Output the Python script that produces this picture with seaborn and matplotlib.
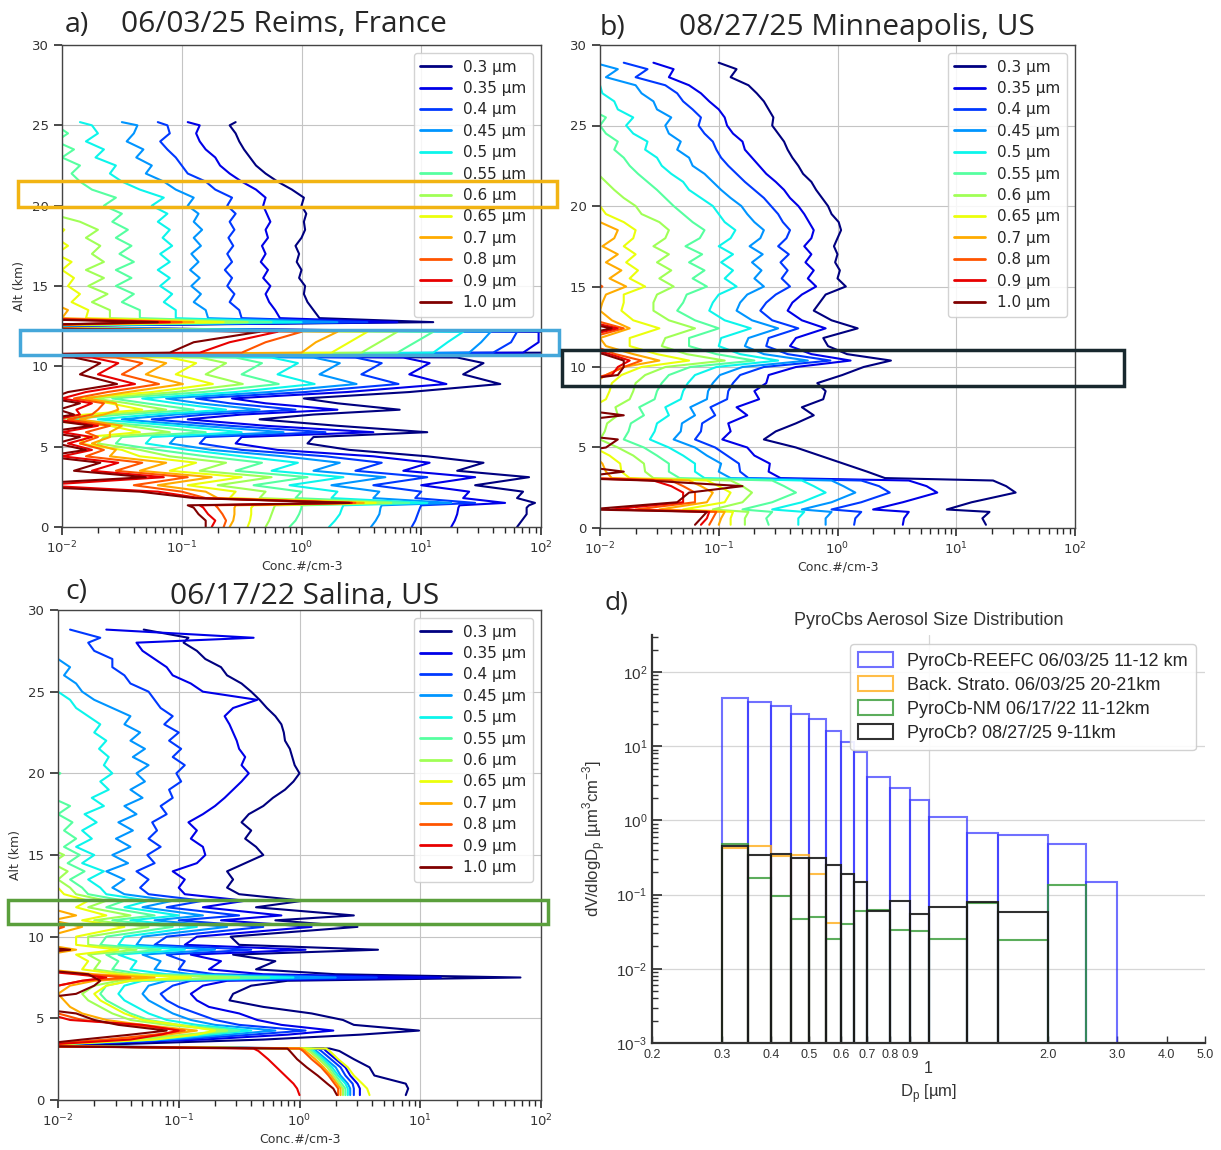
import numpy as np
import pandas as pd
import matplotlib
matplotlib.use("Agg")
import matplotlib.pyplot as plt
import seaborn as sns
from matplotlib.patches import Rectangle, Patch
from matplotlib.lines import Line2D
from matplotlib.ticker import FixedLocator, FixedFormatter

sns.set_theme(style="ticks")
plt.rcParams['font.family'] = ['DejaVu Sans']

SIZES = ["0.3 µm", "0.35 µm", "0.4 µm", "0.45 µm", "0.5 µm", "0.55 µm",
         "0.6 µm", "0.65 µm", "0.7 µm", "0.8 µm", "0.9 µm", "1.0 µm"]

# ---------------- Panel a : 06/03/25 Reims (log10 of concentration) ----------------
A_ALT = [0.0, 0.4, 0.8, 1.2, 1.35, 1.5, 1.8, 2.2, 2.6, 3.1,
         3.5, 4.0, 4.4, 4.8, 5.2, 5.6, 5.9, 6.3, 6.7, 7.0,
         7.3, 7.7, 8.0, 8.4, 8.9, 9.5, 10.2, 10.55, 10.7, 10.85,
         11.5, 12.15, 12.45, 12.75, 13.0, 13.5, 14.0, 14.5, 15.0, 15.5,
         16.0, 16.5, 17.0, 17.5, 18.0, 18.5, 19.0, 19.5, 20.0, 20.5,
         21.0, 21.5, 22.0, 22.5, 23.0, 23.5, 24.0, 24.5, 25.0, 25.2]
a_030 = [1.80, 1.84, 1.88, 1.88, 1.90, 1.95, 1.80, 1.85, 1.45, 1.90,
         1.30, 1.52, 1.05, 0.40, 0.05, 0.10, 1.05, 0.30, -0.35, 0.10,
         0.82, 0.30, 0.02, 0.90, 1.66, 1.35, 1.52, 1.30, -3.0, 2.00,
         2.15, 2.10, -3.0, 1.10, 0.15, 0.10, 0.05, 0.02, 0.03, -0.02,
         0.00, -0.04, -0.02, -0.05, 0.00, 0.03, 0.02, 0.04, 0.00, 0.02,
         -0.08, -0.20, -0.30, -0.38, -0.43, -0.48, -0.52, -0.55, -0.60, -0.55]
a_035 = [1.25, 1.28, 1.30, 1.31, 1.32, 1.70,
         1.35, 1.40, 1.00, 1.45, 0.85, 1.07, 0.60, -0.20, -0.55, -0.50, 0.60, -0.30, -0.95, -0.50, 0.30,
         -0.30, -0.58, 0.38, 1.21, 0.90, 1.07, 0.85,
         -3.0, 1.85, 1.98, 1.98, -3.0, 0.80, -0.18,
         -0.22, -0.27, -0.30, -0.26, -0.32, -0.28, -0.34, -0.30, -0.33, -0.28, -0.30, -0.26, -0.29,
         -0.32, -0.30, -0.38, -0.50, -0.60, -0.68, -0.72, -0.80, -0.85, -0.88, -0.85, -0.95]
a_040 = [0.92, 0.95, 0.97, 0.99, 1.00, 1.45,
         0.95, 1.00, 0.60, 1.05, 0.45, 0.67, 0.20, -0.50, -0.85, -0.80, 0.20, -0.60, -1.25, -0.80, -0.05,
         -0.60, -0.88, 0.03, 0.81, 0.50, 0.67, 0.45,
         -3.0, 1.60, 1.75, 1.80, -3.0, 0.55, -0.50,
         -0.52, -0.60, -0.56, -0.62, -0.58, -0.64, -0.58, -0.62, -0.57, -0.61, -0.56, -0.60, -0.55,
         -0.62, -0.58, -0.72, -0.80, -0.95, -1.00, -1.05, -1.12, -1.18, -1.10, -1.12, -1.20]
a_045 = [0.58, 0.62, 0.65, 0.66, 0.67, 1.25,
         0.60, 0.65, 0.25, 0.70, 0.10, 0.32, -0.15, -0.75, -1.10, -1.05, -0.15, -0.85, -1.50, -1.05, -0.35,
         -0.85, -1.13, -0.27, 0.46, 0.15, 0.32, 0.10,
         -3.0, 1.40, 1.50, 1.58, -3.0, 0.30, -0.78,
         -0.80, -0.90, -0.84, -0.92, -0.85, -0.93, -0.86, -0.92, -0.84, -0.90, -0.83, -0.90, -0.86,
         -0.95, -0.90, -1.05, -1.15, -1.30, -1.25, -1.38, -1.32, -1.46, -1.40, -1.37, -1.50]
a_050 = [0.23, 0.28, 0.32, 0.34, 0.35, 1.05,
         0.25, 0.30, -0.10, 0.35, -0.25, -0.03, -0.50, -0.95, -1.30, -1.25, -0.50, -1.05, -1.70, -1.25, -0.63,
         -1.05, -1.33, -0.55, 0.11, -0.20, -0.03, -0.25,
         -3.0, 1.10, 1.22, 1.35, -3.0, 0.00, -1.05,
         -1.05, -1.15, -1.08, -1.18, -1.10, -1.20, -1.10, -1.18, -1.08, -1.16, -1.10, -1.20, -1.12,
         -1.25, -1.15, -1.35, -1.50, -1.60, -1.55, -1.72, -1.65, -1.80, -1.70, -1.75, -1.85]
a_055 = [-0.10, -0.05, -0.02, 0.00, 0.00, 0.90,
         -0.05, 0.00, -0.40, 0.05, -0.55, -0.33, -0.80, -1.20, -1.55, -1.50, -0.80, -1.30, -1.95, -1.50, -0.90,
         -1.30, -1.58, -0.82, -0.19, -0.50, -0.33, -0.55,
         -3.0, 0.80, 0.95, 1.10, -3.0, -0.25, -1.35,
         -1.35, -1.50, -1.40, -1.55, -1.42, -1.55, -1.40, -1.52, -1.42, -1.55, -1.45, -1.58, -1.50,
         -1.65, -1.55, -1.75, -1.85, -1.92, -1.85, -2.00, -1.90, -2.05, -1.95, -2.05, -2.10]
a_060 = [-0.30, -0.27, -0.25, -0.23, -0.22, 0.75,
         -0.35, -0.30, -0.70, -0.25, -0.85, -0.63, -1.10, -1.35, -1.70, -1.65, -1.10, -1.45, -2.10, -1.65, -1.13,
         -1.45, -1.73, -1.05, -0.49, -0.80, -0.63, -0.85,
         -3.0, 0.50, 0.65, 0.80, -3.0, -0.45, -1.60,
         -1.60, -1.75, -1.62, -1.78, -1.65, -1.80, -1.65, -1.75, -1.68, -1.80, -1.70, -1.85, -2.10,
         -2.20, -2.10, -2.20, -2.30, -2.30, -2.30, -2.30, -2.30, -2.30, -2.30, -2.30, -2.30]
a_065 = [-0.45, -0.43, -0.42, -0.42, -0.40, 0.62,
         -0.60, -0.55, -0.95, -0.50, -1.10, -0.88, -1.35, -1.50, -1.85, -1.80, -1.35, -1.60, -2.25, -1.80, -1.33,
         -1.60, -1.88, -1.25, -0.74, -1.05, -0.88, -1.10,
         -3.0, 0.25, 0.40, 0.55, -3.0, -0.65, -1.80,
         -1.78, -1.92, -1.85, -1.95, -1.90, -2.00, -1.92, -2.05, -1.95, -2.05, -1.98, -2.10, -2.30,
         -2.30, -2.30, -2.30, -2.30, -2.30, -2.30, -2.30, -2.30, -2.30, -2.30, -2.30, -2.30]
a_070 = [-0.60, -0.57, -0.56, -0.56, -0.55, 0.52,
         -0.70, -0.80, -1.20, -0.75, -1.35, -1.13, -1.60, -1.55, -1.75, -1.60, -1.60, -1.50, -1.85, -1.65, -1.53,
         -1.55, -1.80, -1.45, -0.99, -1.30, -1.13, -1.35,
         -3.0, 0.00, 0.12, 0.30, -3.0, -0.90, -2.00,
         -1.95, -2.10, -2.00, -2.15, -2.30, -2.30, -2.30, -2.30, -2.30, -2.30, -2.30, -2.30, -2.30,
         -2.30, -2.30, -2.30, -2.30, -2.30, -2.30, -2.30, -2.30, -2.30, -2.30, -2.30, -2.30]
a_080 = [-0.65, -0.63, -0.66, -0.70, -0.72, 0.45,
         -0.80, -1.00, -1.40, -0.95, -1.55, -1.33, -1.80, -1.65, -1.85, -1.70, -1.80, -1.60, -1.95, -1.75, -1.70,
         -1.65, -1.90, -1.62, -1.19, -1.50, -1.33, -1.55,
         -3.0, -0.50, -0.30, 0.00, -3.0, -1.00, -2.20,
         -2.10, -2.40, -2.40, -2.40, -2.40, -2.40, -2.40, -2.40, -2.40, -2.40, -2.40, -2.40, -2.40,
         -2.40, -2.40, -2.40, -2.40, -2.40, -2.40, -2.40, -2.40, -2.40, -2.40, -2.40, -2.40]
a_090 = [-0.75, -0.72, -0.78, -0.82, -0.85, 0.42,
         -0.85, -1.20, -2.20, -1.15, -1.75, -1.53, -2.00, -1.75, -1.95, -1.75, -2.00, -1.70, -2.05, -1.85, -1.88,
         -1.75, -2.00, -1.80, -1.39, -1.70, -1.53, -1.75,
         -3.0, -0.85, -0.60, -0.20, -3.0, -1.10, -2.40,
         -2.50, -2.50, -2.50, -2.50, -2.50, -2.50, -2.50, -2.50, -2.50, -2.50, -2.50, -2.50, -2.50,
         -2.50, -2.50, -2.50, -2.50, -2.50, -2.50, -2.50, -2.50, -2.50, -2.50, -2.50, -2.50]
a_100 = [-0.80, -0.80, -0.86, -0.90, -0.95, 0.40,
         -0.90, -1.35, -2.50, -1.30, -1.90, -1.68, -2.15, -1.80, -2.05, -1.85, -2.15, -1.75, -2.15, -1.90, -2.03,
         -1.85, -2.10, -1.95, -1.54, -1.85, -1.68, -1.90,
         -3.0, -1.10, -0.90, -0.35, -3.0, -1.20, -2.60,
         -2.60, -2.60, -2.60, -2.60, -2.60, -2.60, -2.60, -2.60, -2.60, -2.60, -2.60, -2.60, -2.60,
         -2.60, -2.60, -2.60, -2.60, -2.60, -2.60, -2.60, -2.60, -2.60, -2.60, -2.60, -2.60]

# ---------------- Panel b : 08/27/25 Minneapolis ----------------
B_ALT = [0.2, 0.6, 1.0, 1.15, 1.6, 2.2, 2.6, 2.95, 3.1, 3.5,
         4.0, 4.5, 5.0, 5.5, 6.0, 6.5, 7.0, 7.5, 8.0, 8.5,
         9.0, 9.5, 10.0, 10.4, 10.8, 11.3, 11.8, 12.4, 12.9, 13.5,
         14.0, 14.5, 15.0, 15.5, 16.0, 16.5, 17.0, 17.5, 18.0, 18.5,
         19.0, 19.5, 20.0, 20.5, 21.0, 21.5, 22.0, 22.5, 23.0, 23.5,
         24.0, 24.5, 25.0, 25.5, 26.0, 26.5, 27.0, 27.5, 28.0, 28.5, 28.9]
b_030 = [1.25, 1.22, 1.28, 0.92, 1.13, 1.50, 1.42, 1.31, 0.40, 0.25,
         0.05, -0.15, -0.35, -0.62, -0.52, -0.35, -0.20, -0.30, -0.12, -0.10,
         -0.17, 0.04, 0.22, 0.45, 0.08, -0.08, -0.12, 0.17, -0.05, -0.20,
         -0.15, -0.10, 0.07, 0.00, 0.02, -0.02, 0.00, -0.03, 0.00, 0.03,
         0.01, -0.05, -0.08, -0.13, -0.18, -0.22, -0.29, -0.33, -0.38, -0.42,
         -0.45, -0.50, -0.55, -0.54, -0.58, -0.62, -0.68, -0.75, -0.90, -0.85, -1.00]
b_035 = [0.55, 0.56, 0.60, 0.30, 0.55, 0.84, 0.75, 0.60,
         -0.48, -0.58, -0.57, -0.70, -0.76, -0.97, -0.90, -0.92, -0.76, -0.85, -0.66, -0.70, -0.60, -0.58, -0.35,
         0.11, -0.22,
         -0.40, -0.35, -0.10, -0.30, -0.42, -0.38, -0.30,
         -0.18, -0.25, -0.20, -0.27, -0.22, -0.28, -0.22, -0.20, -0.24, -0.28, -0.33, -0.40, -0.45, -0.52,
         -0.60, -0.66, -0.72, -0.78, -0.80, -0.88, -0.93, -0.95, -1.00, -1.08, -1.15, -1.25, -1.42, -1.38, -1.55]
b_040 = [0.14, 0.15, 0.20, -0.05, 0.20, 0.44, 0.35, 0.20,
         -0.75, -0.82, -0.83, -0.93, -1.03, -1.20, -1.15, -1.14, -1.03, -1.07, -0.93, -0.92, -0.88, -0.82, -0.62,
         -0.06, -0.42,
         -0.60, -0.58, -0.33, -0.55, -0.65, -0.60, -0.52,
         -0.40, -0.47, -0.42, -0.48, -0.41, -0.50, -0.43, -0.40, -0.46, -0.50, -0.56, -0.62, -0.70, -0.78,
         -0.85, -0.92, -0.98, -1.02, -1.05, -1.12, -1.17, -1.15, -1.22, -1.30, -1.35, -1.45, -1.70, -1.60, -1.80]
b_045 = [-0.10, -0.10, -0.05, -0.30, -0.05, 0.15, 0.05, -0.05,
         -0.90, -1.00, -0.98, -1.10, -1.20, -1.38, -1.32, -1.31, -1.20, -1.24, -1.10, -1.09, -1.05, -0.99, -0.80,
         -0.25, -0.62,
         -0.78, -0.75, -0.50, -0.72, -0.85, -0.82, -0.76,
         -0.62, -0.70, -0.64, -0.72, -0.63, -0.74, -0.65, -0.62, -0.70, -0.76, -0.81, -0.90, -0.98, -1.05,
         -1.12, -1.22, -1.25, -1.35, -1.32, -1.42, -1.45, -1.40, -1.52, -1.55, -1.65, -1.70, -1.95, -1.85, -2.05]
b_050 = [-0.33, -0.33, -0.28, -0.55, -0.30, -0.10, -0.20, -0.30,
         -1.12, -1.20, -1.20, -1.30, -1.42, -1.58, -1.54, -1.52, -1.42, -1.45, -1.32, -1.30, -1.26, -1.20, -1.02,
         -0.50, -0.82,
         -1.00, -0.98, -0.73, -0.95, -1.08, -1.05, -1.00,
         -0.85, -0.95, -0.88, -0.98, -0.88, -1.00, -0.90, -0.86, -0.95, -1.00, -1.05, -1.15, -1.25, -1.30,
         -1.40, -1.48, -1.52, -1.62, -1.60, -1.72, -1.78, -1.72, -1.85, -1.88, -1.98, -2.00, -2.20, -2.15, -2.30]
b_055 = [-0.58, -0.60, -0.55, -0.80, -0.55, -0.35, -0.45, -0.55,
         -1.33, -1.42, -1.42, -1.52, -1.63, -1.80, -1.76, -1.74, -1.63, -1.67, -1.54, -1.52, -1.48, -1.42, -1.24,
         -0.70, -1.02,
         -1.25, -1.25, -1.00, -1.20, -1.35, -1.30, -1.27,
         -1.10, -1.22, -1.12, -1.25, -1.14, -1.28, -1.16, -1.12, -1.22, -1.30, -1.38, -1.45, -1.52, -1.60,
         -1.68, -1.75, -1.80, -1.88, -1.85, -1.95, -2.00, -1.95, -2.08, -2.10, -2.20, -2.20, -2.35, -2.30, -2.40]
b_060 = [-0.78, -0.78, -0.75, -1.05, -0.80, -0.72, -0.80, -0.90,
         -1.55, -1.62, -1.63, -1.72, -1.85, -2.00, -1.96, -1.94, -1.85, -1.87, -1.75, -1.72, -1.70, -1.62, -1.45,
         -0.95, -1.27,
         -1.48, -1.45, -1.20, -1.42, -1.55, -1.55, -1.52,
         -1.38, -1.50, -1.40, -1.52, -1.42, -1.55, -1.45, -1.42, -1.50, -1.65, -1.70, -1.80, -1.88, -1.95,
         -2.02, -2.10, -2.15, -2.20, -2.20, -2.25, -2.30, -2.30, -2.35, -2.35, -2.40, -2.40, -2.45, -2.45, -2.50]
b_065 = [-0.90, -0.90, -0.88, -1.30, -0.95, -0.90, -1.00, -1.10,
         -1.75, -1.82, -1.83, -1.92, -2.05, -2.20, -2.16, -2.14, -2.05, -2.07, -1.95, -1.92, -1.90, -1.82, -1.65,
         -1.25, -1.52,
         -1.75, -1.75, -1.50, -1.72, -1.82, -1.80, -1.80,
         -1.62, -1.75, -1.68, -1.78, -1.70, -1.80, -1.72, -1.70, -1.80, -1.95, -2.00, -2.10, -2.20, -2.25,
         -2.30, -2.30, -2.35, -2.35, -2.40, -2.40, -2.45, -2.45, -2.50, -2.50, -2.50, -2.50, -2.55, -2.55, -2.60]
b_070 = [-1.00, -0.98, -0.95, -1.50, -1.10, -1.05, -1.15, -1.25,
         -1.90, -1.95, -1.98, -2.05, -2.20, -2.33, -2.33, -2.27, -2.20, -2.20, -2.10, -2.05, -2.05, -1.95, -1.80,
         -1.50, -1.72,
         -1.95, -2.00, -1.75, -1.90, -2.00, -1.98, -1.95,
         -1.78, -1.92, -1.82, -1.95, -1.85, -1.98, -1.88, -1.85, -2.00, -2.15, -2.20, -2.30, -2.30, -2.35,
         -2.40, -2.40, -2.45, -2.45, -2.50, -2.50, -2.55, -2.55, -2.60, -2.60, -2.60, -2.60, -2.65, -2.65, -2.70]
b_080 = [-1.08, -1.05, -1.02, -1.70, -1.20, -1.20, -1.30, -1.40,
         -2.05, -2.10, -2.15, -2.20, -2.35, -2.48, -2.48, -2.42, -2.35, -2.35, -2.25, -2.20, -2.20, -1.95, -1.80,
         -1.65, -1.87,
         -2.05, -2.10, -1.80, -2.05, -2.15, -2.15, -2.10,
         -1.98, -2.10, -2.00, -2.12, -2.05, -2.15, -2.05, -2.02, -2.15, -2.30, -2.35, -2.40, -2.45, -2.45,
         -2.50, -2.50, -2.55, -2.55, -2.60, -2.60, -2.65, -2.65, -2.70, -2.70, -2.70, -2.70, -2.75, -2.75, -2.80]
b_090 = [-1.15, -1.10, -1.08, -1.90, -1.30, -1.30, -1.40, -1.55,
         -2.15, -2.20, -2.25, -2.30, -2.45, -2.58, -2.58, -2.52, -2.45, -2.45, -2.35, -2.30, -2.30, -1.90, -1.85,
         -1.75, -1.92,
         -2.15, -2.20, -1.85, -2.15, -2.25, -2.25, -2.25,
         -2.20, -2.30, -2.25, -2.30, -2.25, -2.35, -2.30, -2.25, -2.35, -2.40, -2.45, -2.50, -2.50, -2.55,
         -2.55, -2.60, -2.60, -2.65, -2.65, -2.70, -2.70, -2.75, -2.75, -2.80, -2.80, -2.80, -2.85, -2.85, -2.90]
b_100 = [-1.20, -1.15, -1.10, -2.10, -1.35, -1.25, -0.80, -1.60,
         -2.25, -1.80, -2.35, -2.40, -1.95, -1.85, -2.50, -2.40, -1.80, -2.35, -2.25, -2.40, -2.40, -1.85, -1.80,
         -1.80, -1.97,
         -2.25, -2.30, -1.90, -2.25, -2.35, -2.35, -2.35,
         -2.35, -2.45, -2.40, -2.45, -2.40, -2.50, -2.45, -2.40, -2.50, -2.55, -2.60, -2.60, -2.65, -2.65,
         -2.70, -2.70, -2.75, -2.75, -2.80, -2.80, -2.85, -2.85, -2.90, -2.90, -2.90, -2.90, -2.95, -2.95, -3.00]

# ---------------- Panel c : 06/17/22 Salina ----------------
C_ALT = [0.3, 0.7, 1.0, 1.5, 2.0, 2.5, 3.0, 3.15, 3.3, 3.7,
         4.0, 4.25, 4.6, 4.9, 5.3, 5.7, 6.1, 6.5, 7.0, 7.3,
         7.5, 7.7, 8.0, 8.5, 8.9, 9.2, 9.5, 10.0, 10.6, 11.0,
         11.3, 11.8, 12.2, 12.6, 13.0, 13.5, 14.0, 14.5, 15.0, 15.5,
         16.0, 16.5, 17.0, 17.5, 18.0, 18.5, 19.0, 19.5, 20.0, 20.5,
         21.0, 21.5, 22.0, 22.5, 23.0, 23.5, 24.0, 24.5, 25.0, 25.5,
         26.0, 26.5, 27.0, 27.5, 28.0, 28.3, 28.8]
c_030 = [0.88, 0.90, 0.88, 0.62, 0.58, 0.45, 0.33, 0.25, -2.00, -0.30,
         0.50, 0.99, 0.45, 0.36, 0.10, -0.30, -0.58, -0.55, -0.40, -0.10,
         1.83, 0.30, -0.36, -0.20, -0.55, 0.65, -0.50, -0.57, 0.48, -0.20,
         0.45, -0.36, 0.03, -0.50,
         -0.60, -0.55, -0.60, -0.45, -0.30, -0.36, -0.45, -0.40, -0.48, -0.42, -0.30, -0.22, -0.12,
         -0.05, 0.00, -0.04, -0.06, -0.08, -0.12, -0.13, -0.15, -0.20, -0.27, -0.33, -0.40, -0.48,
         -0.60, -0.65, -0.78, -0.85, -0.96, -0.92, -1.29]
c_035 = [0.50, 0.50, 0.48, 0.42, 0.38, 0.30, 0.22, 0.20, -2.30,
         -0.80, -0.10, 0.28, -0.15, -0.35, -0.50, -0.75, -0.85, -0.90, -0.80, -0.60, 1.17, -0.30,
         -0.75, -0.65, -0.90, 0.05, -0.95, -0.85, 0.10, -0.65, -0.15, -0.80, -0.45, -0.95,
         -1.00, -0.95, -1.05, -0.85, -0.78, -0.80, -0.90, -0.85, -0.92, -0.80, -0.70, -0.62, -0.55,
         -0.48, -0.42, -0.48, -0.45, -0.50, -0.52, -0.55, -0.58, -0.62, -0.55, -0.35, -0.80, -0.90,
         -1.05, -1.10, -1.20, -1.30, -1.35, -0.38, -1.60]
c_040 = [0.45, 0.45, 0.44, 0.38, 0.34, 0.26, 0.18, 0.15, -2.30,
         -1.00, -0.40, 0.05, -0.50, -0.70, -0.85, -1.00, -1.10, -1.15, -1.05, -0.90, 0.64, -0.70,
         -1.00, -0.95, -1.10, -0.40, -1.20, -1.10, -0.30, -1.00, -0.50, -1.10, -0.80, -1.25,
         -1.32, -1.25, -1.35, -1.20, -1.26, -1.15, -1.25, -1.18, -1.22, -1.10, -1.15, -1.05, -1.08,
         -0.98, -1.02, -0.95, -1.05, -0.98, -1.08, -1.00, -1.12, -1.05, -1.15, -1.20, -1.25, -1.40,
         -1.45, -1.55, -1.55, -1.70, -1.75, -1.65, -1.90]
c_045 = [0.42, 0.42, 0.40, 0.34, 0.30, 0.22, 0.14, 0.12, -2.30,
         -1.10, -0.60, -0.20, -0.70, -0.90, -1.05, -1.15, -1.25, -1.30, -1.25, -1.10, 0.30, -0.90,
         -1.20, -1.15, -1.30, -0.70, -1.35, -1.30, -0.60, -1.20, -0.80, -1.30, -1.05, -1.45,
         -1.55, -1.45, -1.60, -1.42, -1.55, -1.40, -1.52, -1.38, -1.50, -1.35, -1.45, -1.30, -1.40,
         -1.28, -1.35, -1.25, -1.38, -1.28, -1.40, -1.32, -1.45, -1.40, -1.55, -1.70, -1.80, -1.85,
         -1.95, -1.90, -2.00, -2.05, -2.10, -2.10, -2.20]
c_050 = [0.40, 0.40, 0.38, 0.32, 0.27, 0.20, 0.12, 0.10, -2.30,
         -1.20, -0.75, -0.40, -0.85, -1.10, -1.25, -1.35, -1.45, -1.50, -1.45, -1.30, -0.05, -1.10,
         -1.40, -1.35, -1.50, -0.95, -1.50, -1.45, -0.85, -1.40, -1.00, -1.45, -1.25, -1.60,
         -1.65, -1.75, -1.62, -1.80, -1.70, -1.85, -1.72, -1.80, -1.68, -1.78, -1.62, -1.72, -1.58,
         -1.65, -1.55, -1.62, -1.58, -1.66, -1.60, -1.70, -1.65, -1.75, -1.85, -1.90, -2.00, -2.05,
         -2.10, -2.15, -2.20, -2.25, -2.30, -2.30, -2.35]
c_055 = [0.38, 0.38, 0.35, 0.30, 0.25, 0.18, 0.10, 0.08, -2.30,
         -1.30, -0.85, -0.50, -1.00, -1.25, -1.40, -1.50, -1.60, -1.65, -1.60, -1.40, -0.25, -1.30,
         -1.55, -1.50, -1.60, -1.15, -1.65, -1.60, -1.05, -1.55, -1.20, -1.60, -1.45, -1.75,
         -1.80, -1.90, -1.78, -1.92, -1.82, -1.95, -1.85, -1.95, -1.88, -2.00, -1.90, -2.05, -2.00,
         -2.10, -1.98, -2.15, -2.10, -2.20, -2.15, -2.25, -2.25, -2.30, -2.30, -2.35, -2.35, -2.40,
         -2.40, -2.45, -2.45, -2.50, -2.50, -2.50, -2.55]
c_060 = [0.36, 0.36, 0.33, 0.28, 0.23, 0.16, 0.08, 0.05, -2.30,
         -1.35, -0.95, -0.60, -1.10, -1.40, -1.55, -1.65, -1.75, -1.80, -1.70, -1.50, -0.50, -1.40,
         -1.70, -1.65, -1.75, -1.35, -1.75, -1.75, -1.25, -1.70, -1.40, -1.75, -1.60, -1.85,
         -1.90, -2.00, -1.92, -2.05, -1.95, -2.10, -2.05, -2.15, -2.10, -2.20, -2.20, -2.25, -2.25,
         -2.30, -2.30, -2.35, -2.35, -2.40, -2.40, -2.40, -2.45, -2.45, -2.45, -2.50, -2.50, -2.50,
         -2.55, -2.55, -2.55, -2.60, -2.60, -2.60, -2.65]
c_065 = [0.58, 0.56, 0.52, 0.45, 0.40, 0.32, 0.25, 0.22, -2.30,
         -1.20, -0.85, -0.70, -1.00, -1.30, -1.45, -1.55, -1.65, -1.70, -1.60, -1.40, -0.90, -1.50,
         -1.80, -1.75, -1.85, -1.50, -1.85, -1.85, -1.45, -1.80, -1.60, -1.85, -1.75, -1.95,
         -2.00, -2.10, -2.05, -2.15, -2.10, -2.20, -2.20, -2.25, -2.25, -2.30, -2.30, -2.35, -2.35,
         -2.40, -2.40, -2.40, -2.45, -2.45, -2.45, -2.50, -2.50, -2.50, -2.55, -2.55, -2.55, -2.60,
         -2.60, -2.60, -2.65, -2.65, -2.65, -2.70, -2.70]
c_070 = [0.34, 0.34, 0.31, 0.26, 0.20, 0.13, 0.05, 0.02, -2.30,
         -1.50, -1.10, -0.85, -1.30, -1.60, -1.80, -1.90, -1.95, -2.00, -1.90, -1.70, -1.20, -1.70,
         -2.10, -2.05, -2.10, -1.85, -2.10, -2.10, -1.80, -2.05, -1.85, -2.10, -2.00, -2.20,
         -2.50, -2.50, -2.50, -2.50, -2.50, -2.50, -2.50, -2.50, -2.50, -2.50, -2.50, -2.50, -2.50,
         -2.50, -2.50, -2.50, -2.50, -2.50, -2.50, -2.50, -2.50, -2.50, -2.50, -2.50, -2.50, -2.50,
         -2.50, -2.50, -2.50, -2.50, -2.50, -2.50, -2.50]
c_080 = [0.32, 0.32, 0.29, 0.24, 0.18, 0.10, 0.03, 0.00, -2.30,
         -1.60, -1.20, -0.95, -1.40, -1.80, -2.00, -2.10, -2.10, -2.10, -2.00, -1.80, -1.40, -1.80,
         -2.20, -2.20, -2.20, -1.95, -2.20, -2.20, -1.95, -2.15, -2.00, -2.20, -2.10, -2.30,
         -2.50, -2.50, -2.50, -2.50, -2.50, -2.50, -2.50, -2.50, -2.50, -2.50, -2.50, -2.50, -2.50,
         -2.50, -2.50, -2.50, -2.50, -2.50, -2.50, -2.50, -2.50, -2.50, -2.50, -2.50, -2.50, -2.50,
         -2.50, -2.50, -2.50, -2.50, -2.50, -2.50, -2.50]
c_090 = [0.00, -0.02, -0.05, -0.12, -0.19, -0.26, -0.34, -0.38, -2.30,
         -1.40, -1.15, -1.00, -1.30, -1.90, -2.10, -2.20, -2.20, -2.20, -2.00, -1.80, -1.60, -1.85,
         -2.30, -2.30, -2.30, -2.00, -2.30, -2.30, -2.05, -2.25, -2.10, -2.30, -2.20, -2.40,
         -2.60, -2.60, -2.60, -2.60, -2.60, -2.60, -2.60, -2.60, -2.60, -2.60, -2.60, -2.60, -2.60,
         -2.60, -2.60, -2.60, -2.60, -2.60, -2.60, -2.60, -2.60, -2.60, -2.60, -2.60, -2.60, -2.60,
         -2.60, -2.60, -2.60, -2.60, -2.60, -2.60, -2.60]
c_100 = [0.31, 0.28, 0.23, 0.15, 0.06, -0.02, -0.08, -0.10, -2.30,
         -1.80, -1.40, -1.10, -1.50, -1.70, -1.85, -2.30, -2.30, -1.85, -1.70, -1.65, -1.70, -1.75,
         -2.20, -2.30, -2.30, -1.90, -2.30, -2.30, -2.10, -2.30, -2.20, -2.30, -2.30, -2.40,
         -2.70, -2.70, -2.70, -2.70, -2.70, -2.70, -2.70, -2.70, -2.70, -2.70, -2.70, -2.70, -2.70,
         -2.70, -2.70, -2.70, -2.70, -2.70, -2.70, -2.70, -2.70, -2.70, -2.70, -2.70, -2.70, -2.70,
         -2.70, -2.70, -2.70, -2.70, -2.70, -2.70, -2.70]

# ---------------- Panel d : size distributions ----------------
BIN_EDGES = [0.3, 0.35, 0.4, 0.45, 0.5, 0.55, 0.6, 0.65, 0.7, 0.8, 0.9, 1.0, 1.25, 1.5, 2.0, 2.5, 3.0]
dv_reefc = [45, 39, 35, 27, 23, 16, 11.5, 8.4, 3.9, 2.75, 1.86, 1.11, 0.68, 0.63, 0.475, 0.148]
dv_strato = [0.43, 0.45, 0.33, 0.34, 0.19, 0.042]
dv_nm = [0.475, 0.17, 0.097, 0.047, 0.050, 0.025, 0.040, 0.060, 0.062, 0.0335, 0.032, 0.025, 0.078, 0.0245, 0.135]
dv_mpls = [0.45, 0.34, 0.35, 0.315, 0.31, 0.25, 0.19, 0.15, 0.061, 0.082, 0.055, 0.068, 0.080, 0.058]
D_LABELS = ["PyroCb-REEFC 06/03/25 11-12 km", "Back. Strato. 06/03/25 20-21km",
            "PyroCb-NM 06/17/22 11-12km", "PyroCb? 08/27/25 9-11km"]
D_COLORS = [(0.2, 0.2, 1.0, 0.7), (1.0, 0.68, 0.1, 0.8), (0.2, 0.6, 0.2, 0.8), (0.1, 0.1, 0.1, 0.9)]

COLORS = [plt.cm.jet(v) for v in np.linspace(0, 1, 12)]

W, H = 1221, 1150
fig = plt.figure(figsize=(W / 100, H / 100), dpi=100)


def px_axes(left, top, right, bottom):
    return fig.add_axes([left / W, 1 - bottom / H, (right - left) / W, (bottom - top) / H])


def profile_panel(ax, alt, series, ylabel):
    rows = []
    for lab, vals in zip(SIZES, series):
        if len(vals) != len(alt):
            raise ValueError(f"length mismatch {lab}: {len(vals)} vs {len(alt)}")
        for a, v in zip(alt, vals):
            rows.append((lab, a, 10.0 ** v))
    df = pd.DataFrame(rows, columns=["size", "alt", "conc"])
    ax.set_xscale("log")
    sns.lineplot(data=df, x="conc", y="alt", hue="size", hue_order=SIZES, palette=COLORS,
                 orient="y", sort=False, estimator=None, linewidth=1.5, legend=False, ax=ax)
    ax.set_xlim(1e-2, 1e2)
    ax.set_ylim(0, 30)
    ax.set_yticks([0, 5, 10, 15, 20, 25, 30])
    ax.grid(True, which="major", color="#c4c4c4", linewidth=0.8)
    ax.tick_params(axis="both", which="major", labelsize=9.5, colors="#333333")
    ax.set_xlabel("Conc.#/cm-3", fontsize=9, color="#333333", labelpad=2)
    ax.set_ylabel(ylabel, fontsize=9, color="#333333", labelpad=4)
    for s in ax.spines.values():
        s.set_color("#444444")
        s.set_linewidth(1.0)
    handles = [Line2D([0], [0], color=c, lw=2) for c in COLORS]
    ax.legend(handles, SIZES, loc="upper right", fontsize=11, framealpha=0.85,
              borderpad=0.45, labelspacing=0.42, handlelength=2.0)


ax_a = px_axes(62, 45, 541, 527)
profile_panel(ax_a, A_ALT, [a_030, a_035, a_040, a_045, a_050, a_055, a_060, a_065,
                            a_070, a_080, a_090, a_100], "Alt (km)")
ax_b = px_axes(600, 45, 1075, 528)
profile_panel(ax_b, B_ALT, [b_030, b_035, b_040, b_045, b_050, b_055, b_060, b_065,
                            b_070, b_080, b_090, b_100], "")
ax_c = px_axes(58, 610, 541, 1100)
profile_panel(ax_c, C_ALT, [c_030, c_035, c_040, c_045, c_050, c_055, c_060, c_065,
                            c_070, c_080, c_090, c_100], "Alt (km)")

# panel d
ax_d = px_axes(652, 635, 1205, 1043)
edges = np.array(BIN_EDGES)
for vals, col in zip([dv_reefc, dv_strato, dv_nm, dv_mpls], D_COLORS):
    n = len(vals)
    e = edges[:n + 1]
    centers = np.sqrt(e[:-1] * e[1:])
    dfd = pd.DataFrame({"dp": centers, "dv": vals})
    sns.histplot(data=dfd, x="dp", weights="dv", bins=[float(v) for v in e], element="bars", fill=False,
                 color=col[:3], alpha=col[3], linewidth=1.5, ax=ax_d)
ax_d.set_xscale("log")
ax_d.set_yscale("log")
ax_d.set_xlim(0.2, 5.0)
ax_d.set_ylim(1e-3, 10 ** 2.5)
ax_d.xaxis.set_major_locator(FixedLocator([1.0]))
ax_d.xaxis.set_major_formatter(FixedFormatter(["1"]))
minor_vals = [0.2, 0.3, 0.4, 0.5, 0.6, 0.7, 0.8, 0.9, 2.0, 3.0, 4.0, 5.0]
ax_d.xaxis.set_minor_locator(FixedLocator(minor_vals))
ax_d.xaxis.set_minor_formatter(FixedFormatter([f"{v:.1f}" for v in minor_vals]))
ax_d.tick_params(axis="x", which="minor", labelsize=9, direction="in", length=5, pad=4, colors="#333333")
ax_d.tick_params(axis="x", which="major", labelsize=11.5, direction="in", length=6, pad=13, colors="#333333")
ax_d.tick_params(axis="y", which="both", direction="in", colors="#333333")
ax_d.tick_params(axis="y", which="major", labelsize=11, length=7)
ax_d.tick_params(axis="y", which="minor", length=4)
ax_d.grid(True, which="major", color="#d6d6d6", linewidth=0.9)
for side in ["top", "right"]:
    ax_d.spines[side].set_visible(False)
for side in ["left", "bottom"]:
    ax_d.spines[side].set_color("#333333")
    ax_d.spines[side].set_linewidth(1.6)
for lab in ax_d.get_xticklabels(which="both") + ax_d.get_yticklabels():
    lab.set_fontfamily("Liberation Sans")
ax_d.set_title("PyroCbs Aerosol Size Distribution", fontsize=13, family="Liberation Sans",
               color="#333333", pad=7)
ax_d.set_xlabel(r"D$_\mathregular{p}$ [µm]", fontsize=12, family="Liberation Sans", color="#333333", labelpad=4)
ax_d.set_ylabel(r"dV/dlogD$_\mathregular{p}$ [µm$^\mathregular{3}$cm$^\mathregular{-3}$]", fontsize=12,
                family="Liberation Sans", color="#333333", labelpad=6)
dh = [Patch(facecolor="none", edgecolor=c, linewidth=1.5, label=l) for c, l in zip(D_COLORS, D_LABELS)]
ax_d.legend(handles=dh, loc="upper right", bbox_to_anchor=(1.0, 1.0),
            prop={"family": "Liberation Sans", "size": 13}, framealpha=0.9, labelspacing=0.35,
            handlelength=1.9, handleheight=0.9, borderpad=0.45)

# panel labels and titles
TFONT = "Open Sans"
fig.text(65 / W, 1 - 25 / H, "a)", fontsize=20.5, family=TFONT, va="center", ha="left")
fig.text(284 / W, 1 - 25 / H, "06/03/25 Reims, France", fontsize=21.5, family=TFONT, va="center", ha="center")
fig.text(600 / W, 1 - 28 / H, "b)", fontsize=20.5, family=TFONT, va="center", ha="left")
fig.text(857 / W, 1 - 28 / H, "08/27/25 Minneapolis, US", fontsize=21.5, family=TFONT, va="center", ha="center")
fig.text(65 / W, 1 - 592 / H, "c)", fontsize=20.5, family=TFONT, va="center", ha="left")
fig.text(305 / W, 1 - 596 / H, "06/17/22 Salina, US", fontsize=21.5, family=TFONT, va="center", ha="center")
fig.text(605 / W, 1 - 603 / H, "d)", fontsize=19, family=TFONT, va="center", ha="left")

# highlight boxes
def px_box(left, top, right, bottom, color):
    fig.add_artist(Rectangle((left / W, 1 - bottom / H), (right - left) / W, (bottom - top) / H,
                             transform=fig.transFigure, fill=False, edgecolor=color, linewidth=2.5))

px_box(18, 181, 557, 207, "#f2b413")
px_box(20, 330, 559, 355, "#45a7da")
px_box(562, 350, 1124, 386, "#18282e")
px_box(8, 900, 548, 924, "#5a9f3c")

fig.savefig("out.png", dpi=100)
